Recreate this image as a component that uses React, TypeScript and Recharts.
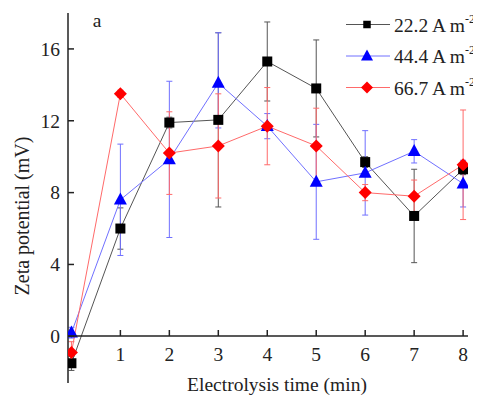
import React from 'react';
import { ComposedChart, Line, XAxis, YAxis, ErrorBar, Legend } from 'recharts';

const times = [0, 1, 2, 3, 4, 5, 6, 7, 8];
const black = [-1.5, 6.0, 11.9, 12.05, 15.3, 13.8, 9.7, 6.7, 9.3];
const blackErr = [0.4, 1.15, 0.3, 4.85, 2.2, 2.7, 0.3, 2.6, 0.3];
const blue = [0.2, 7.6, 9.85, 14.1, 11.7, 8.6, 9.1, 10.3, 8.5];
const blueErr: (number | number[])[] = [0.3, 3.1, 4.35, [2.5, 2.8], 0.7, 3.2, 2.35, 0.65, 1.3];
const red = [-0.9, 13.5, 10.2, 10.6, 11.7, 10.6, 8.0, 7.8, 9.55];
const redErr = [0.6, 0.2, 2.3, 2.9, 2.15, 2.1, 0.45, 0.9, 3.05];
const seriesNames = ['22.2 A m', '44.4 A m', '66.7 A m'];
const yTicks = [0, 4, 8, 12, 16];
const xTicks = [1, 2, 3, 4, 5, 6, 7, 8];

const rows = times.map((t, i) => ({
  t,
  black: black[i],
  blackErr: blackErr[i],
  blue: blue[i],
  blueErr: blueErr[i],
  red: red[i],
  redErr: redErr[i],
}));

const W = 473;
const H = 398;
const FONT = '"Liberation Serif", "Times New Roman", serif';
const PLOT_LEFT = 60;
const AXIS_Y = 328;

const Square = ({ cx, cy, size, fill }: any) => (
  <rect x={cx - size / 2} y={cy - size / 2} width={size} height={size} fill={fill} />
);
const Triangle = ({ cx, cy, w, h, fill }: any) => (
  <polygon points={`${cx},${cy - h * 0.6} ${cx + w / 2},${cy + h * 0.4} ${cx - w / 2},${cy + h * 0.4}`} fill={fill} />
);
const Diamond = ({ cx, cy, r, fill }: any) => (
  <polygon points={`${cx},${cy - r} ${cx + r},${cy} ${cx},${cy + r} ${cx - r},${cy}`} fill={fill} />
);

const squareDot = (p: any) => <Square key={`s${p.index}`} cx={p.cx} cy={p.cy} size={10} fill="#000" />;
const triDot = (p: any) => <Triangle key={`t${p.index}`} cx={p.cx} cy={p.cy} w={13} h={12} fill="#0000ff" />;
const diaDot = (p: any) => <Diamond key={`d${p.index}`} cx={p.cx} cy={p.cy} r={6.5} fill="#ff0000" />;

const YTick = (p: any) => (
  <g>
    <line x1={PLOT_LEFT} x2={PLOT_LEFT + 6} y1={p.y} y2={p.y} stroke="#222" strokeWidth={1.5} />
    <text x={52} y={p.y} dy="0.35em" textAnchor="end" fontFamily={FONT} fontSize={19.5} fill="#222">
      {p.payload.value}
    </text>
  </g>
);

const XTick = (p: any) => (
  <g>
    <line x1={p.x} x2={p.x} y1={AXIS_Y} y2={AXIS_Y - 6} stroke="#222" strokeWidth={1.5} />
    <text x={p.x} y={353} textAnchor="middle" fontFamily={FONT} fontSize={19.5} fill="#222">
      {p.payload.value}
    </text>
  </g>
);

const YTitle = () => (
  <g>
    <text
      x={14}
      y={208}
      transform="rotate(-90, 14, 208)"
      textAnchor="middle"
      dy="0.35em"
      fontFamily={FONT}
      fontSize={20}
      fill="#222"
    >
      Zeta potential (mV)
    </text>
    <text x={89} y={19} textAnchor="middle" fontFamily={FONT} fontSize={19.5} fill="#222">
      a
    </text>
  </g>
);

const XTitle = () => (
  <text x={269} y={383} textAnchor="middle" fontFamily={FONT} fontSize={19.5} fill="#222">
    Electrolysis time (min)
  </text>
);

const legendItems = [
  { name: seriesNames[0], line: '#555', kind: 'square' },
  { name: seriesNames[1], line: '#7070ff', kind: 'tri' },
  { name: seriesNames[2], line: '#ff6a6a', kind: 'dia' },
];

const LegendContent = () => (
  <svg width={137} height={100}>
    {legendItems.map((it, i) => {
      const y = 16.5 + i * 31.5;
      return (
        <g key={it.name}>
          <line x1={2} x2={46} y1={y} y2={y} stroke={it.line} strokeWidth={1} />
          {it.kind === 'square' && <Square cx={23} cy={y} size={7.5} fill="#000" />}
          {it.kind === 'tri' && <Triangle cx={23} cy={y} w={12} h={11} fill="#0000ff" />}
          {it.kind === 'dia' && <Diamond cx={23} cy={y} r={6} fill="#ff0000" />}
          <text x={50} y={y + 7} fontFamily={FONT} fontSize={19.5} fill="#222">
            {it.name}
            <tspan dy={-9} fontSize={12}>-2</tspan>
          </text>
        </g>
      );
    })}
  </svg>
);

export default function App() {
  return (
    <div style={{ position: 'relative', width: W, height: H }}>
      <div style={{ position: 'absolute', left: 0, top: 0 }}>
        <ComposedChart width={W} height={H} data={rows} margin={{ top: 5, right: 13, bottom: 23, left: 0 }}>
          <XAxis type="number" dataKey="t" domain={[-0.07, 8.1]} hide allowDataOverflow />
          <YAxis
            type="number"
            domain={[-2.6, 18]}
            ticks={yTicks}
            width={60}
            allowDataOverflow
            axisLine={{ stroke: '#222', strokeWidth: 1.5 }}
            tickLine={false}
            tick={YTick}
            interval={0}
            label={<YTitle />}
          />
          <Legend
            layout="vertical"
            align="center"
            verticalAlign="middle"
            content={LegendContent}
            wrapperStyle={{ left: 336, top: 0, right: 'auto', bottom: 'auto', width: 137, height: 100 }}
          />
          <Line
            dataKey="black"
            stroke="#555"
            strokeWidth={1}
            dot={squareDot}
            activeDot={false}
            isAnimationActive={false}
          >
            <ErrorBar dataKey="blackErr" width={3} stroke="#555" strokeWidth={1} direction="y" />
          </Line>
          <Line
            dataKey="blue"
            stroke="#7070ff"
            strokeWidth={1}
            dot={triDot}
            activeDot={false}
            isAnimationActive={false}
          >
            <ErrorBar dataKey="blueErr" width={3} stroke="#7070ff" strokeWidth={1} direction="y" />
          </Line>
          <Line
            dataKey="red"
            stroke="#ff6a6a"
            strokeWidth={1}
            dot={diaDot}
            activeDot={false}
            isAnimationActive={false}
          >
            <ErrorBar dataKey="redErr" width={3} stroke="#ff6a6a" strokeWidth={1} direction="y" />
          </Line>
        </ComposedChart>
      </div>
      <div style={{ position: 'absolute', left: 0, top: 0, pointerEvents: 'none' }}>
        <ComposedChart width={W} height={H} data={rows} margin={{ top: 5, right: 13, bottom: 0, left: 60 }}>
          <XAxis
            type="number"
            dataKey="t"
            domain={[-0.07, 8.1]}
            ticks={xTicks}
            interval={0}
            height={70}
            allowDataOverflow
            axisLine={{ stroke: '#222', strokeWidth: 1.5 }}
            tickLine={false}
            tick={XTick}
            label={<XTitle />}
          />
          <YAxis hide domain={[0, 18]} allowDataOverflow />
          <Line dataKey="black" stroke="none" dot={false} activeDot={false} isAnimationActive={false} />
        </ComposedChart>
      </div>
    </div>
  );
}
